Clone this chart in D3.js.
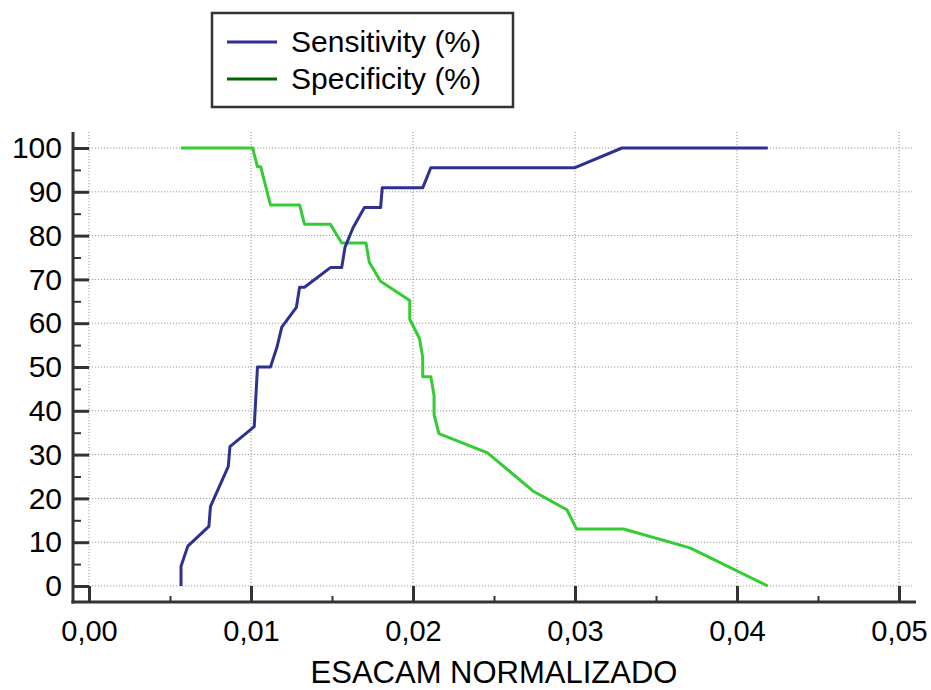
<!DOCTYPE html>
<html>
<head>
<meta charset="utf-8">
<script src="https://cdn.jsdelivr.net/npm/d3@7"></script>
<style>
  html, body { margin: 0; padding: 0; background: #fff; }
  svg { display: block; font-family: "Liberation Sans", Arial, sans-serif; }
</style>
</head>
<body>
<svg id="chart" width="931" height="690"></svg>
<script>
// ---- data ----
const sensX = [0.00568, 0.00568, 0.0061, 0.0074, 0.0075, 0.0086, 0.0087, 0.0102, 0.0104, 0.0112, 0.0116, 0.0119, 0.0128, 0.0130, 0.0133, 0.0149, 0.0156, 0.0158, 0.0163, 0.0170, 0.0180, 0.0181, 0.0206, 0.0211, 0.0300, 0.0329, 0.0419];
const sensY = [0, 4.5, 9.1, 13.6, 18.2, 27.3, 31.8, 36.4, 50.0, 50.0, 54.5, 59.1, 63.6, 68.2, 68.2, 72.7, 72.7, 77.3, 81.8, 86.4, 86.4, 90.9, 90.9, 95.5, 95.5, 100, 100];
const specX = [0.00568, 0.0101, 0.0104, 0.0106, 0.0112, 0.0130, 0.0133, 0.0149, 0.0156, 0.0171, 0.0173, 0.0180, 0.0198, 0.0198, 0.0204, 0.0206, 0.0206, 0.0211, 0.0213, 0.0213, 0.0216, 0.0246, 0.0274, 0.0295, 0.0301, 0.0330, 0.0371, 0.0419];
const specY = [100, 100, 95.7, 95.7, 87.0, 87.0, 82.6, 82.6, 78.3, 78.3, 73.9, 69.6, 65.2, 60.9, 56.5, 52.2, 47.8, 47.8, 43.5, 39.1, 34.8, 30.4, 21.7, 17.4, 13.0, 13.0, 8.7, 0];
const xTicks = [0, 0.01, 0.02, 0.03, 0.04, 0.05];
const xMinor = [0.005, 0.015, 0.025, 0.035, 0.045];
const yTicks = [0, 10, 20, 30, 40, 50, 60, 70, 80, 90, 100];
const yMinor = [5, 15, 25, 35, 45, 55, 65, 75, 85, 95];
const seriesNames = ["Sensitivity (%)", "Specificity (%)"];
const xTitle = "ESACAM NORMALIZADO";

// ---- layout ----
const svg = d3.select("#chart");
const axisColor = "#333";
const blue = "#2E3192";
const green = "#33CC33";
const legendGreen = "#006600";

const x = d3.scaleLinear().domain([0, 0.05]).range([89, 899]);
const y = d3.scaleLinear().domain([0, 100]).range([586, 148]);

// grid
const grid = svg.append("g");
grid.selectAll("line.h").data(yTicks).enter().append("line")
  .attr("x1", x(0)).attr("x2", 913)
  .attr("y1", d => y(d)).attr("y2", d => y(d))
  .attr("stroke", "#999").attr("stroke-width", 1).attr("stroke-dasharray", "1.2,1.8");
grid.selectAll("line.v").data(xTicks).enter().append("line")
  .attr("x1", d => x(d)).attr("x2", d => x(d))
  .attr("y1", 132).attr("y2", y(0))
  .attr("stroke", "#999").attr("stroke-width", 1).attr("stroke-dasharray", "1.2,1.8");

// axes
function styleAxis(fs) {
  return g => {
    g.select(".domain").remove();
    g.selectAll(".tick line").attr("stroke", axisColor).attr("stroke-width", 3);
    g.selectAll(".tick text").attr("fill", "#000").style("font-size", fs + "px")
      .style("font-family", "'Liberation Sans', Arial, sans-serif");
  };
}

svg.append("g").attr("transform", `translate(${x(0)},0)`)
  .call(d3.axisLeft(y).tickValues(yTicks).tickSize(16).tickPadding(11).tickFormat(d3.format("d")))
  .call(styleAxis(30));
svg.append("g").attr("transform", `translate(81,0)`)
  .call(d3.axisLeft(y).tickValues(yMinor).tickSize(8).tickFormat(""))
  .call(styleAxis(30))
  .selectAll(".tick line").attr("stroke-width", 2);

const fmtX = d => d3.format(".2f")(d).replace(".", ",");
svg.append("g").attr("transform", `translate(0,${y(0)})`)
  .call(d3.axisBottom(x).tickValues(xTicks).tickSize(16).tickPadding(18).tickFormat(fmtX))
  .call(styleAxis(29));
svg.append("g").attr("transform", `translate(0,596)`)
  .call(d3.axisBottom(x).tickValues(xMinor).tickSize(6).tickFormat(""))
  .call(styleAxis(29))
  .selectAll(".tick line").attr("stroke-width", 2);

// axis lines
svg.append("line").attr("x1", 73).attr("x2", 73).attr("y1", 132).attr("y2", 603.5)
  .attr("stroke", axisColor).attr("stroke-width", 3);
svg.append("line").attr("x1", 71.5).attr("x2", 916).attr("y1", 602).attr("y2", 602)
  .attr("stroke", axisColor).attr("stroke-width", 3);

// x title
svg.append("text").attr("x", (x(0) + x(0.05)) / 2).attr("y", 683)
  .attr("text-anchor", "middle").style("font-size", "31px").attr("fill", "#000")
  .text(xTitle);

// lines
const line = d3.line().x(d => x(d[0])).y(d => y(d[1]));
const sens = sensX.map((v, i) => [v, sensY[i]]);
const spec = specX.map((v, i) => [v, specY[i]]);
svg.append("path").datum(spec).attr("d", line)
  .attr("fill", "none").attr("stroke", green).attr("stroke-width", 3).attr("stroke-linejoin", "round");
svg.append("path").datum(sens).attr("d", line)
  .attr("fill", "none").attr("stroke", blue).attr("stroke-width", 3).attr("stroke-linejoin", "round");

// legend
const lg = svg.append("g");
lg.append("rect").attr("x", 212).attr("y", 13).attr("width", 301).attr("height", 94)
  .attr("fill", "#fff").attr("stroke", axisColor).attr("stroke-width", 2.5);
const legColors = [blue, legendGreen];
seriesNames.forEach((name, i) => {
  const yy = 42 + i * 37;
  lg.append("line").attr("x1", 227).attr("x2", 277).attr("y1", yy).attr("y2", yy)
    .attr("stroke", legColors[i]).attr("stroke-width", 3);
  lg.append("text").attr("x", 291).attr("y", yy + 10).style("font-size", "30px").attr("fill", "#000")
    .text(name);
});
</script>
</body>
</html>
